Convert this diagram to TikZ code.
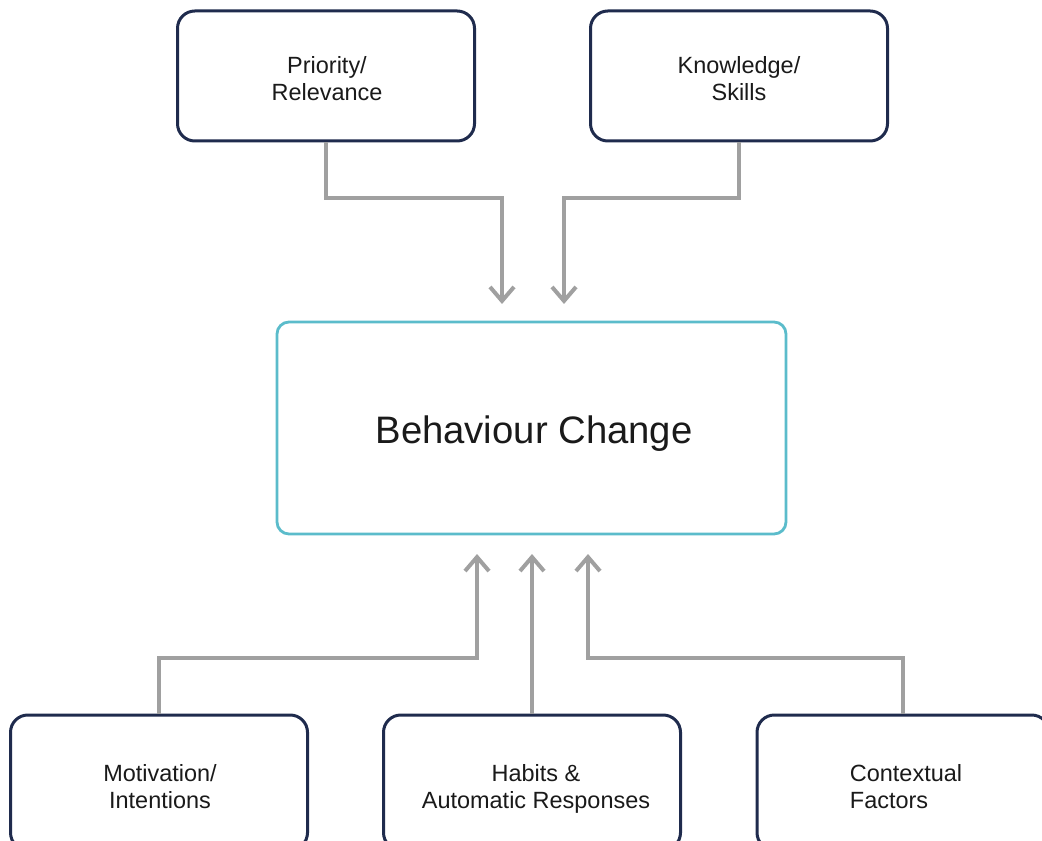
\documentclass[tikz,border=0pt]{standalone}
\usepackage{fontspec}
\setmainfont{Liberation Sans}
\usetikzlibrary{arrows.meta,calc}
\definecolor{navy}{HTML}{1F2B4D}
\definecolor{bcteal}{HTML}{5BBCCB}
\definecolor{linkgray}{HTML}{A0A0A0}
\definecolor{ink}{HTML}{1A1A1A}
\begin{document}
\begin{tikzpicture}[x=0.75pt,y=-0.75pt,
  factor/.style={draw=navy,line width=2.25pt,rounded corners=13pt,fill=white,
    minimum width=222.75pt,inner sep=0pt},
  topfactor/.style={factor,minimum height=97.5pt},
  lowfactor/.style={factor,minimum height=101.25pt},
  caption/.style={inner sep=0pt,align=center,text=ink,
    font=\fontsize{17.6}{20.25}\selectfont},
  core/.style={draw=bcteal,line width=2.1pt,rounded corners=9pt,fill=white,
    minimum width=381.75pt,minimum height=159pt,inner sep=0pt},
  corecaption/.style={inner sep=0pt,text=ink,font=\fontsize{28.7}{34}\selectfont},
  link/.style={draw=linkgray,line width=3pt,
    -{Straight Barb[length=10.5pt,width=18pt]}}]
\useasboundingbox (0,0) rectangle (1042,841);
\clip (0,0) rectangle (1042,841);

% influencing factors above
\node[topfactor] (prio) at (326,76) {};
\node[caption] (priotxt) at ($(prio.center)+(1,3)$) {Priority/\\Relevance};
\node[topfactor] (know) at (739,76) {};
\node[caption] (knowtxt) at ($(know.center)+(0,3)$) {Knowledge/\\Skills};

% central outcome
\node[core] (bc) at (531.5,428) {};
\node[corecaption] (bctxt) at ($(bc.center)+(2.5,6)$) {Behaviour Change};

% influencing factors below
\node[lowfactor] (moti) at (159,782.5) {};
\node[caption] (mototxt) at ($(moti.center)+(1,4)$) {Motivation/\\Intentions};
\node[lowfactor] (habit) at (532,782.5) {};
\node[caption] (habittxt) at ($(habit.center)+(4,6)$) {Habits \&\\Automatic Responses};
\node[lowfactor,minimum width=219pt] (ctx) at (903,782.5) {};
\node[caption,align=left] (ctxtxt) at ($(ctx.center)+(3,4)$) {Contextual\\Factors};

% arrow tips stop short of the central box
\coordinate (t1) at (502,304);
\coordinate (t2) at (564,304);
\coordinate (b1) at (477,554);
\coordinate (b2) at (532,554);
\coordinate (b3) at (588,554);

\draw[link] (prio.south) |- (502,198) -- (t1);
\draw[link] (know.south) |- (564,198) -- (t2);
\draw[link] (moti.north) |- (477,658) -- (b1);
\draw[link] (habit.north) -- (b2);
\draw[link] (ctx.north) |- (588,658) -- (b3);
\end{tikzpicture}
\end{document}
